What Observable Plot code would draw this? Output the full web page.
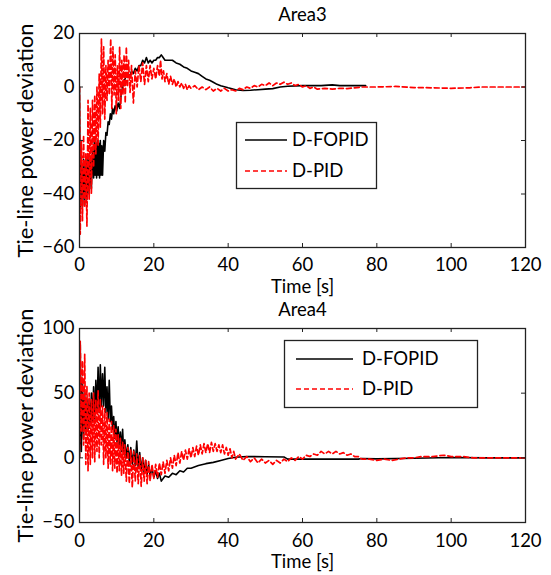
<!DOCTYPE html>
<html>
<head>
<meta charset="utf-8">
<script src="https://cdn.jsdelivr.net/npm/d3@7"></script>
<script src="https://cdn.jsdelivr.net/npm/@observablehq/plot@0.6"></script>
<style>
  html, body { margin: 0; padding: 0; background: #fff; }
  #page { position: relative; width: 551px; height: 575px; font-family: Lato, "Open Sans", sans-serif; }
  #page > svg { position: absolute; left: 0; }
  #overlay { position: absolute; left: 0; top: 0; pointer-events: none; }
</style>
</head>
<body>
<div id="page"></div>
<script>
// ---------- data ----------
const xTicks = [0, 20, 40, 60, 80, 100, 120];
const yTicksArea3 = [-60, -40, -20, 0, 20];
const yTicksArea4 = [-50, 0, 50, 100];
const seriesNames = ["D-FOPID", "D-PID"];
const titles = ["Area3", "Area4"];
const xLabel = "Time [s]";
const yLabel = "Tie-line power deviation";

// Area3, [time s, deviation]
const area3Fopid = [[0,0],[0.2,-45],[0.5,-28],[0.8,-45],[1.1,-27],[1.4,-44],[1.7,-26],[2.0,-42],[2.3,-26],[2.6,-40],[2.9,-26],[3.2,-38],[3.5,-24],[3.8,-34],[4.0,-20],[4.2,-33],[4.4,-21],[4.6,-34],[4.8,-20],[5.0,-33],[5.2,-21],[5.4,-34],[5.6,-20],[5.8,-33],[6.0,-22],[6.2,-33],[6.5,-20],[6.8,-24],[7.1,-17],[7.4,-18],[7.7,-13],[8.0,-14],[8.3,-10],[8.6,-12],[8.9,-8],[9.2,-10],[9.6,-7],[10.0,-9],[10.4,-6],[10.8,-8],[11.2,-3],[11.6,0],[12,2],[12.5,4],[13,5],[13.5,4],[14,6],[14.5,5],[15,7],[15.5,6],[16,8],[16.5,8],[17,10],[17.5,9],[18,11],[18.5,9],[19,10],[19.5,9],[20,10],[20.5,10],[21,11],[21.5,11],[22,12],[22.5,11],[23,10],[24,10],[25,10],[26,9],[27,8.5],[28,7.5],[29,7],[30,6],[31,5.5],[32,5],[33,4],[34,3],[35,2.5],[36,1.8],[37,1],[38,0.5],[40,-0.3],[42,-1],[44,-1.3],[46,-1.2],[48,-1],[50,-0.8],[52,-0.6],[54,0],[56,0.3],[60,0.5],[65,0.5],[68,0.8],[70,0.5],[77,0.5]];
const area3Pid = [[0,0],[0.2,-55],[0.5,-20],[0.8,-50],[1.1,-18],[1.4,-45],[1.7,-25],[2.0,-52],[2.3,-5],[2.6,-42],[2.9,-8],[3.2,-40],[3.5,-5],[3.8,-30],[4.1,-3],[4.4,-25],[4.7,0],[5.0,-22],[5.3,5],[5.6,-15],[5.9,18],[6.2,-10],[6.5,15],[6.8,-12],[7.1,8],[7.4,-5],[7.7,10],[8.0,-3],[8.4,18],[8.7,-8],[9.0,15],[9.3,-3],[9.6,12],[9.9,-10],[10.2,8],[10.5,-5],[10.8,15],[11.1,-8],[11.4,10],[11.7,-3],[12.0,12],[12.3,-6],[12.6,15],[12.9,0],[13.2,10],[13.6,-2],[14,8],[14.5,-6],[15,6],[15.5,0],[16,8],[16.5,2],[17,9],[17.5,1],[18,8],[18.5,2],[19,8],[19.5,3],[20,7],[20.5,3],[21,8],[21.5,4],[21.8,10],[22.2,3],[22.6,6],[23,2],[23.5,5],[24,1],[24.5,4],[25,1],[25.5,3],[26,0],[26.5,2],[27,0],[27.5,1.5],[28,-0.5],[28.5,1],[29,-1],[29.5,0.5],[30,-0.5],[31,0.5],[32,-1],[33,0],[34,-1],[35,0],[36,-1.5],[37,-0.5],[38,-1.5],[39,-0.5],[40,-1.5],[41,-1],[42,-1.5],[43,-0.5],[44,-1],[45,0],[46,-0.5],[47,0.5],[48,0],[49,1],[50,0.5],[51,1.5],[52,0.5],[53,1.5],[54,1],[55,1.8],[56,1],[57,1.5],[58,0.5],[59,1],[60,0],[61,0.5],[62,-0.5],[63,0],[64,-0.8],[66,-0.5],[68,-0.8],[70,-0.5],[72,-0.6],[74,-0.3],[76,0],[80,0],[85,0.2],[90,-0.2],[95,-0.3],[100,-0.5],[105,-0.3],[108,0],[120,0]];

// Area4, [time s, deviation]
const area4Fopid = [[0,0],[0.2,88],[0.5,5],[0.8,60],[1.1,15],[1.4,50],[1.7,20],[2.0,45],[2.3,22],[2.6,45],[2.9,25],[3.2,50],[3.5,28],[3.8,55],[4.1,30],[4.4,60],[4.7,35],[5.0,70],[5.3,35],[5.6,72],[5.9,40],[6.2,65],[6.5,40],[6.8,70],[7.1,35],[7.4,55],[7.7,30],[8.0,60],[8.3,28],[8.6,40],[8.9,22],[9.2,32],[9.5,15],[9.8,28],[10.1,12],[10.4,24],[10.7,8],[11.0,20],[11.3,5],[11.6,22],[11.9,3],[12.2,14],[12.6,0],[13,10],[13.4,-3],[13.8,8],[14.2,-5],[14.6,6],[15,-6],[15.4,13],[15.8,-8],[16.2,4],[16.6,-10],[17,0],[17.4,-12],[17.8,-2],[18.2,-13],[18.6,-5],[19,-14],[19.5,-8],[20,-15],[20.5,-10],[21,-16],[21.5,-12],[22,-18],[23,-14],[24,-15],[25,-12],[26,-13],[27,-10],[28,-11],[29,-8],[30,-8],[32,-6],[34,-4.5],[36,-3.5],[38,-2],[40,-0.5],[42,0.5],[45,1],[50,0.8],[55,0.7],[56,-1],[62,-1],[75,-1],[76,-0.5],[80,-0.8],[90,-0.3],[100,0.3],[110,0],[120,0]];
const area4Pid = [[0,0],[0.2,90],[0.5,20],[0.8,75],[1.1,10],[1.4,80],[1.7,-5],[2.0,55],[2.3,-10],[2.6,50],[2.9,-5],[3.2,45],[3.5,0],[3.8,50],[4.1,-3],[4.4,45],[4.7,5],[5.0,52],[5.3,0],[5.6,45],[5.9,10],[6.2,40],[6.5,-5],[6.8,38],[7.1,0],[7.4,35],[7.7,-8],[8.0,30],[8.3,-5],[8.6,28],[8.9,-10],[9.2,25],[9.5,-8],[9.8,22],[10.1,-12],[10.4,18],[10.7,-10],[11.0,15],[11.3,-14],[11.6,12],[11.9,-12],[12.2,10],[12.6,-18],[13,8],[13.4,-20],[13.8,6],[14.2,-23],[14.6,5],[15,-18],[15.4,3],[15.8,-20],[16.2,2],[16.6,-22],[17,0],[17.4,-18],[17.8,-2],[18.2,-20],[18.6,-3],[19,-18],[19.5,-5],[20,-16],[20.5,-5],[21,-15],[21.5,-4],[22,-13],[22.5,-3],[23,-12],[23.5,-2],[24,-10],[24.5,0],[25,-8],[25.5,2],[26,-6],[26.5,4],[27,-4],[27.5,5],[28,-2],[28.5,6],[29,-1],[29.5,7],[30,0],[30.5,8],[31,1],[31.5,9],[32,2],[32.5,10],[33,3],[33.5,11],[34,4],[34.5,11],[35,4],[35.5,12],[36,5],[36.5,11],[37,5],[37.5,10],[38,4],[38.5,10],[39,3],[39.5,8],[40,2],[40.5,7],[41,0],[41.5,5],[42,-1],[43,3],[44,-2],[45,1],[46,-3],[47,0],[48,-4],[49,-1],[50,-4],[51,-2],[52,-5],[53,-2],[54,-4],[55,-1],[56,-3],[57,0],[58,-2],[59,1],[60,-1],[61,2],[62,1],[63,3],[64,2],[65,5],[66,3],[67,5],[68,3],[69,5],[70,3],[71,4],[72,2],[73,3],[74,1],[75,1],[76,-1],[78,-1],[80,-2],[82,-1],[84,-2],[86,-1],[88,0],[90,0],[92,1],[95,1],[98,2],[100,1],[103,1],[106,0],[110,0],[120,0]];

// ---------- drawing ----------
const W = 551;
const page = document.getElementById("page");

function panel({fopid, pid, yDomain, yTicks, title, height, marginTop, marginBottom, titleDy, xLabelDy, tickPad}) {
  const marginLeft = 79, marginRight = 26;
  const frameH = height - marginTop - marginBottom;
  const frameW = W - marginLeft - marginRight;
  const tk = 4;
  return Plot.plot({
    width: W, height, marginTop, marginBottom, marginLeft, marginRight,
    style: {fontFamily: "Lato, 'Open Sans', sans-serif", fontSize: "18.5px", color: "#000", background: "transparent", overflow: "visible"},
    x: {domain: [0, 120], ticks: xTicks},
    y: {domain: yDomain, ticks: yTicks},
    marks: [
      Plot.line(fopid, {x: d => d[0], y: d => d[1], stroke: "#000", strokeWidth: 1.6, clip: true}),
      Plot.line(pid, {x: d => d[0], y: d => d[1], stroke: "#ff0000", strokeWidth: 1.7, strokeDasharray: "5,3", clip: true}),
      Plot.ruleX(xTicks, {x: d => d, insetTop: frameH - tk, stroke: "#222"}),
      Plot.ruleX(xTicks, {x: d => d, insetBottom: frameH - tk, stroke: "#222"}),
      Plot.ruleY(yTicks, {y: d => d, insetRight: frameW - tk, stroke: "#222"}),
      Plot.ruleY(yTicks, {y: d => d, insetLeft: frameW - tk, stroke: "#222"}),
      Plot.frame({stroke: "#222", strokeWidth: 1.3}),
      Plot.axisX({ticks: xTicks, tickSize: 0, tickPadding: tickPad, label: null, fill: "#000"}),
      Plot.axisY({ticks: yTicks, tickSize: 0, tickPadding: 5, label: null, fill: "#000"}),
      Plot.text([title], {frameAnchor: "top", dy: titleDy, lineAnchor: "middle", textAnchor: "middle", fill: "#000"}),
      Plot.text([xLabel], {frameAnchor: "bottom", dy: xLabelDy, lineAnchor: "middle", textAnchor: "middle", fill: "#000"}),
      Plot.text([yLabel], {frameAnchor: "left", dx: -54, rotate: -90, lineAnchor: "middle", textAnchor: "middle", fill: "#000", fontSize: 22})
    ]
  });
}

const p1 = panel({fopid: area3Fopid, pid: area3Pid, yDomain: [-60, 20], yTicks: yTicksArea3, title: titles[0],
  height: 287, marginTop: 33, marginBottom: 40, titleDy: -18, xLabelDy: 40, tickPad: 10});
p1.style.top = "0px";
page.appendChild(p1);

const p2 = panel({fopid: area4Fopid, pid: area4Pid, yDomain: [-50, 100], yTicks: yTicksArea4, title: titles[1],
  height: 288, marginTop: 41, marginBottom: 53, titleDy: -18, xLabelDy: 40, tickPad: 11});
p2.style.top = "287px";
page.appendChild(p2);

// ---------- legends (overlay) ----------
const ov = d3.select(page).append("svg").attr("id", "overlay").attr("width", W).attr("height", 575)
  .style("font-family", "Lato, 'Open Sans', sans-serif").style("font-size", "18.5px");
const legends = [
  {x: 236, y: 122, w: 140, h: 66, lx0: 245, lx1: 287, tx: 292, rows: [140, 171]},
  {x: 284, y: 340, w: 193, h: 67, lx0: 296, lx1: 353, tx: 362, rows: [359, 389]}
];
const styles = [{stroke: "#000", dash: null}, {stroke: "#ff0000", dash: "5,3"}];
for (const L of legends) {
  ov.append("rect").attr("x", L.x + 0.5).attr("y", L.y + 0.5).attr("width", L.w).attr("height", L.h)
    .attr("fill", "#fff").attr("stroke", "#222").attr("stroke-width", 1.3);
  seriesNames.forEach((name, i) => {
    ov.append("line").attr("x1", L.lx0).attr("x2", L.lx1).attr("y1", L.rows[i]).attr("y2", L.rows[i])
      .attr("stroke", styles[i].stroke).attr("stroke-width", 1.6).attr("stroke-dasharray", styles[i].dash);
    ov.append("text").attr("x", L.tx).attr("y", L.rows[i]).attr("dy", "0.35em").text(name);
  });
}
</script>
</body>
</html>
